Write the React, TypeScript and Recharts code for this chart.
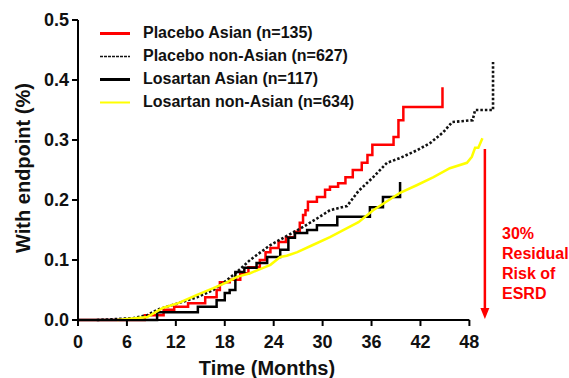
import React from 'react';
import {
  LineChart,
  Line,
  XAxis,
  YAxis,
  ReferenceLine,
  ReferenceDot,
  Legend,
} from 'recharts';

// [month, fraction with endpoint]
const placeboAsian: [number, number][] = [
  [0, 0], [8.2, 0.008], [10.5, 0.017], [11.8, 0.022], [13.5, 0.028], [15.6, 0.038],
  [17.0, 0.05], [17.4, 0.063], [18.6, 0.067], [19.9, 0.078], [20.9, 0.088], [22.3, 0.1],
  [23.0, 0.113], [23.6, 0.12], [24.6, 0.13], [25.5, 0.138], [26.6, 0.147], [27.2, 0.162],
  [27.6, 0.175], [27.9, 0.183], [28.2, 0.197], [29.3, 0.205], [30.3, 0.217], [30.9, 0.222],
  [31.9, 0.228], [32.8, 0.238], [33.7, 0.25], [34.8, 0.262], [35.5, 0.275], [36.1, 0.292],
  [38.7, 0.305], [39.3, 0.333], [39.9, 0.355], [44.7, 0.355], [44.7, 0.388],
];

const placeboNonAsian: [number, number][] = [
  [2.3, 0], [6.7, 0.003], [8.5, 0.008], [9.7, 0.017], [12.3, 0.028], [14.6, 0.038],
  [16.6, 0.05], [18.3, 0.067], [19.5, 0.08], [21.1, 0.1], [23.6, 0.125], [25.6, 0.14],
  [27.6, 0.155], [29.4, 0.17], [30.9, 0.183], [33.0, 0.19], [34.4, 0.215], [36.2, 0.238],
  [37.9, 0.262], [39.5, 0.27], [41.6, 0.283], [43.2, 0.295], [44.8, 0.313], [45.9, 0.33],
  [48.4, 0.333], [48.7, 0.35], [50.9, 0.35], [50.9, 0.43],
];

const losartanAsian: [number, number][] = [
  [0, 0], [9.7, 0.013], [14.7, 0.022], [17.0, 0.033], [18.0, 0.045], [18.6, 0.05],
  [19.3, 0.08], [20.4, 0.087], [21.9, 0.095], [23.2, 0.105], [24.8, 0.117], [25.8, 0.137],
  [26.6, 0.145], [28.1, 0.15], [29.3, 0.158], [31.8, 0.172], [35.8, 0.188], [37.4, 0.205],
  [39.5, 0.23],
];

const losartanNonAsian: [number, number][] = [
  [4.8, 0], [8.5, 0.005], [10.4, 0.02], [12.3, 0.028], [14.6, 0.042], [16.6, 0.053],
  [18.3, 0.063], [19.5, 0.072], [21.1, 0.078], [22.7, 0.087], [23.6, 0.092], [24.8, 0.105],
  [25.6, 0.107], [26.9, 0.113], [28.8, 0.125], [30.9, 0.138], [33.0, 0.153], [34.4, 0.163],
  [36.2, 0.183], [39.5, 0.212], [41.6, 0.225], [43.6, 0.238], [45.6, 0.253], [47.7, 0.262],
  [48.3, 0.272], [48.7, 0.287], [49.1, 0.287], [49.6, 0.303],
];

const xTicks = [0, 6, 12, 18, 24, 30, 36, 42, 48];
const yTicks = [0, 0.1, 0.2, 0.3, 0.4, 0.5];

const arrowMonth = 49.9;
const arrowTop = 0.285;
const noteLines = ['30%', 'Residual', 'Risk of', 'ESRD'];

const FONT = 'Arial, "Liberation Sans", Helvetica, sans-serif';

const toPoints = (arr: [number, number][]) => arr.map(([m, v]) => ({ m, v }));

const series = [
  { name: 'Placebo Asian (n=135)', data: placeboAsian, color: '#ff0000', width: 2.5, dash: undefined, type: 'stepAfter', legendWidth: 3, legendDash: undefined },
  { name: 'Placebo non-Asian (n=627)', data: placeboNonAsian, color: '#111111', width: 2.6, dash: '2.5 2', type: 'linear', legendWidth: 1.5, legendDash: '3 1' },
  { name: 'Losartan Asian (n=117)', data: losartanAsian, color: '#000000', width: 2.5, dash: undefined, type: 'stepAfter', legendWidth: 3, legendDash: undefined },
  { name: 'Losartan non-Asian (n=634)', data: losartanNonAsian, color: '#ffff00', width: 2.5, dash: undefined, type: 'linear', legendWidth: 2, legendDash: undefined },
];

const LegendBox = () => (
  <div style={{ fontFamily: FONT, fontWeight: 700, fontSize: 16, color: '#111' }}>
    {series.map((s) => (
      <div key={s.name} style={{ display: 'flex', alignItems: 'center', height: 23 }}>
        <svg width={43} height={23} style={{ display: 'block' }}>
          <line x1={0} x2={30} y1={11.5} y2={11.5} stroke={s.color} strokeWidth={s.legendWidth} strokeDasharray={s.legendDash} />
        </svg>
        <span style={{ whiteSpace: 'nowrap' }}>{s.name}</span>
      </div>
    ))}
  </div>
);

const ArrowHead = (props: any) => {
  const { cx, cy } = props;
  return <polygon points={`${cx - 4.5},${cy - 12} ${cx + 4.5},${cy - 12} ${cx},${cy - 1}`} fill="#ff0000" />;
};

const tickStyle = { fill: '#111', fontSize: 18, fontWeight: 700, fontFamily: FONT };

export default function App() {
  return (
    <div style={{ position: 'absolute', left: 0, top: 0, background: '#fff' }}>
      <LineChart width={569} height={378} margin={{ top: 20, right: 67, bottom: 0, left: 0 }}>
        <XAxis
          type="number"
          dataKey="m"
          domain={[0, 52]}
          ticks={xTicks}
          axisLine={false}
          tickLine={{ stroke: '#000', strokeWidth: 2 }}
          tickSize={6}
          tickMargin={9}
          height={58}
          tick={tickStyle}
          label={{
            content: () => (
              <text x={267} y={374.5} textAnchor="middle" fill="#111" fontSize={20} fontWeight={700} fontFamily={FONT}>
                Time (Months)
              </text>
            ),
          }}
        />
        <YAxis
          type="number"
          dataKey="v"
          domain={[0, 0.5]}
          ticks={yTicks}
          width={78}
          axisLine={{ stroke: '#000', strokeWidth: 2 }}
          tickLine={{ stroke: '#000', strokeWidth: 2 }}
          tickSize={6}
          tickMargin={3}
          tick={tickStyle}
          tickFormatter={(v: number) => v.toFixed(1)}
          label={{
            content: () => (
              <text transform="translate(30,168) rotate(-90)" textAnchor="middle" fill="#111" fontSize={20} fontWeight={700} fontFamily={FONT}>
                With endpoint (%)
              </text>
            ),
          }}
        />
        {series.map((s) => (
          <Line
            key={s.name}
            name={s.name}
            data={toPoints(s.data)}
            dataKey="v"
            type={s.type as any}
            stroke={s.color}
            strokeWidth={s.width}
            strokeDasharray={s.dash}
            dot={false}
            activeDot={false}
            isAnimationActive={false}
          />
        ))}
        <ReferenceLine
          segment={[{ x: 0, y: 0 }, { x: 48, y: 0 }]}
          stroke="#000"
          strokeWidth={2}
        />
        <ReferenceLine
          segment={[{ x: arrowMonth, y: arrowTop }, { x: arrowMonth, y: 0.015 }]}
          stroke="#ff0000"
          strokeWidth={2.5}
        />
        <ReferenceDot x={arrowMonth} y={0} r={5} shape={ArrowHead} />
        <ReferenceLine
          segment={[{ x: arrowMonth, y: 0.15 }, { x: arrowMonth, y: 0.15 }]}
          stroke="none"
          label={{
            content: () => (
              <text x={502} y={239} fill="#ff0000" fontSize={16} fontWeight={700} fontFamily={FONT}>
                {noteLines.map((t, i) => (
                  <tspan key={t} x={502} y={239 + i * 20}>{t}</tspan>
                ))}
              </text>
            ),
          }}
        />
        <Legend
          layout="vertical"
          align="center"
          verticalAlign="middle"
          content={() => <LegendBox />}
          wrapperStyle={{ left: 100, top: 21.5, width: 300, height: 92 }}
        />
      </LineChart>
    </div>
  );
}
